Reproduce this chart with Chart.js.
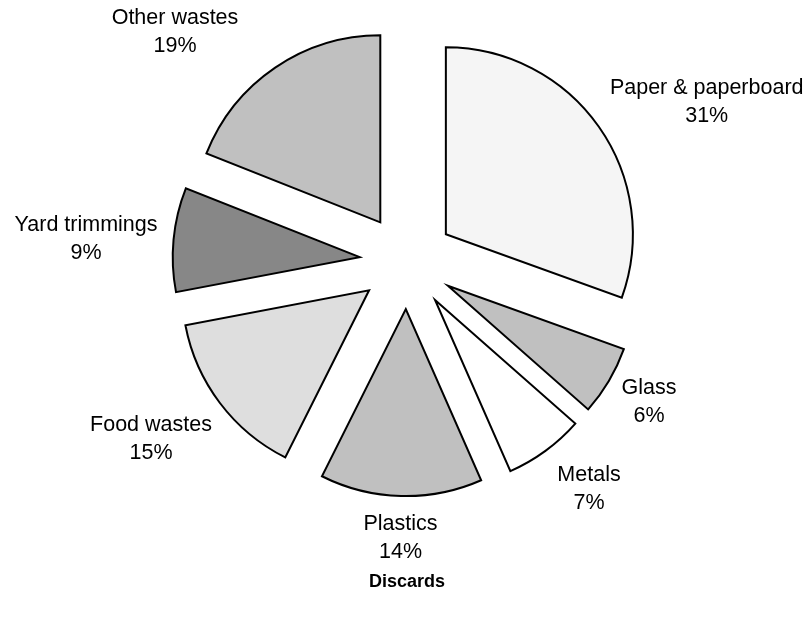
<!DOCTYPE html>
<html><head><meta charset="utf-8">
<script src="https://cdn.jsdelivr.net/npm/chart.js@4.4.0/dist/chart.umd.min.js"></script>
<style>html,body{margin:0;padding:0;background:#fff}#wrap{width:809px;height:621px}</style>
</head><body><div id="wrap"><canvas id="c" width="809" height="621"></canvas></div>
<script>
// ---- data ----
const categories = ['Paper & paperboard', 'Glass', 'Metals', 'Plastics', 'Food wastes', 'Yard trimmings', 'Other wastes'];
const shares = [30.5, 6.0, 6.9, 14.0, 14.6, 9.0, 19.0];
const percentLabels = ['31%', '6%', '7%', '14%', '15%', '9%', '19%'];
const chartTitle = 'Discards';

// ---- styles ----
const sliceColors = ['#f5f5f5', '#c0c0c0', '#ffffff', '#c0c0c0', '#dedede', '#878787', '#c0c0c0'];
const EXPLODE = 47.5;
const labelFont = '21.5px "Liberation Sans", Arial, sans-serif';
const labelLineGap = 28;
// center of first text line for each label
const labelCenters = [[706.7, 88.3], [649, 388.3], [589, 475], [400.5, 524], [151, 425], [86, 225], [175, 18]];

const explodePlugin = {
  id: 'explode',
  afterDatasetUpdate(chart, args) {
    args.meta.data.forEach(arc => {
      const mid = (arc.startAngle + arc.endAngle) / 2;
      arc.x += Math.cos(mid) * EXPLODE;
      arc.y += Math.sin(mid) * EXPLODE;
    });
  }
};

const labelPlugin = {
  id: 'sliceLabels',
  afterDraw(chart) {
    const ctx = chart.ctx;
    ctx.save();
    ctx.font = labelFont;
    ctx.fillStyle = '#000';
    ctx.textAlign = 'center';
    ctx.textBaseline = 'middle';
    categories.forEach((name, i) => {
      const [x, y] = labelCenters[i];
      ctx.fillText(name, x, y);
      ctx.fillText(percentLabels[i], x, y + labelLineGap);
    });
    ctx.restore();
  }
};

new Chart(document.getElementById('c'), {
  type: 'pie',
  data: {
    labels: categories,
    datasets: [{
      data: shares,
      backgroundColor: sliceColors,
      borderColor: '#000',
      borderWidth: 2,
      borderJoinStyle: 'miter'
    }]
  },
  options: {
    responsive: false,
    animation: false,
    events: [],
    devicePixelRatio: 1,
    radius: 187,
    layout: { padding: { left: 5, right: 0, top: 0, bottom: 28.2 } },
    plugins: {
      legend: { display: false },
      tooltip: { enabled: false },
      title: {
        display: true,
        text: chartTitle,
        position: 'bottom',
        color: '#000',
        font: { family: '"Liberation Sans", Arial, sans-serif', size: 18, weight: 'bold' },
        padding: { top: 48, bottom: 0 }
      }
    }
  },
  plugins: [explodePlugin, labelPlugin]
});
</script>
</body></html>
